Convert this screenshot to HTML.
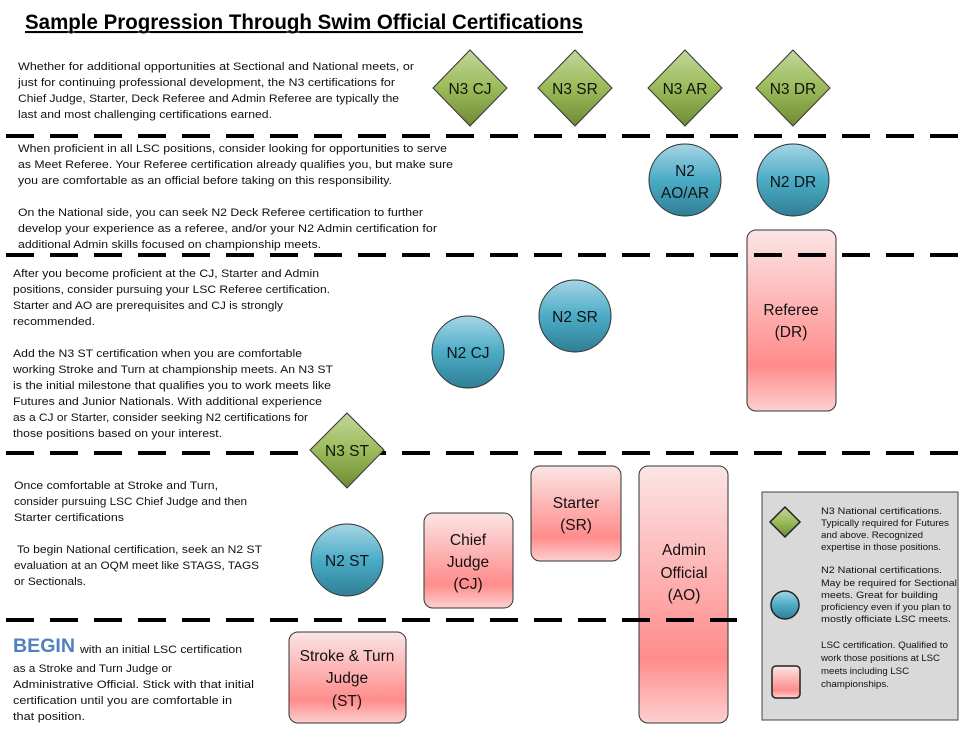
<!DOCTYPE html>
<html><head><meta charset="utf-8"><style>
html,body{margin:0;padding:0;background:#fff;}
svg{display:block;font-family:"Liberation Sans",sans-serif;}
.p{font-size:11px;fill:#111;}
.l{font-size:9px;fill:#111;}
.s{font-size:15.5px;fill:#111;text-anchor:middle;}
</style></head><body>
<svg width="974" height="731" viewBox="0 0 974 731" xmlns="http://www.w3.org/2000/svg">
<defs>
<linearGradient id="g" x1="0" y1="0" x2="0" y2="1"><stop offset="0" stop-color="#c3d69b"/><stop offset="0.5" stop-color="#9bbb59"/><stop offset="1" stop-color="#6f8b36"/></linearGradient>
<linearGradient id="b" x1="0" y1="0" x2="0" y2="1"><stop offset="0" stop-color="#a5d5e4"/><stop offset="0.5" stop-color="#4bacc6"/><stop offset="1" stop-color="#2f7f95"/></linearGradient>
<linearGradient id="r" x1="0" y1="0" x2="0" y2="1"><stop offset="0" stop-color="#fbe5e5"/><stop offset="0.75" stop-color="#ff8c8c"/><stop offset="1" stop-color="#fcd0d0"/></linearGradient>
</defs>

<text x="25" y="29" font-size="21" font-weight="bold" textLength="558" lengthAdjust="spacingAndGlyphs" text-decoration="underline">Sample Progression Through Swim Official Certifications</text>
<line x1="25" y1="32" x2="583" y2="32" stroke="#000" stroke-width="1.5"/>

<!-- shapes -->
<g stroke="#333" stroke-width="1">
<rect x="747" y="230" width="89" height="181" rx="9" fill="url(#r)"/>
<rect x="531" y="466" width="90" height="95" rx="9" fill="url(#r)"/>
<rect x="424" y="513" width="89" height="95" rx="9" fill="url(#r)"/>
<rect x="639" y="466" width="89" height="257" rx="9" fill="url(#r)"/>
<rect x="289" y="632" width="117" height="91" rx="9" fill="url(#r)"/>
</g>

<!-- dashed lines -->
<g stroke="#000" stroke-width="4" stroke-dasharray="28 16">
<line x1="6" y1="136" x2="966" y2="136"/>
<line x1="6" y1="255" x2="962" y2="255"/>
<line x1="6" y1="453" x2="958" y2="453"/>
<line x1="6" y1="620" x2="737" y2="620"/>
</g>

<g stroke="#333" stroke-width="1" fill="url(#g)">
<polygon points="470,50 507,88 470,126 433,88"/>
<polygon points="575,50 612,88 575,126 538,88"/>
<polygon points="685,50 722,88 685,126 648,88"/>
<polygon points="793,50 830,88 793,126 756,88"/>
<polygon points="347,413 384,450 347,488 310,450"/>
</g>
<g stroke="#333" stroke-width="1" fill="url(#b)">
<circle cx="685" cy="180" r="36"/>
<circle cx="793" cy="180" r="36"/>
<circle cx="575" cy="316" r="36"/>
<circle cx="468" cy="352" r="36"/>
<circle cx="347" cy="560" r="36"/>
</g>

<g class="s">
<text x="470" y="94">N3 CJ</text>
<text x="575" y="94">N3 SR</text>
<text x="685" y="94">N3 AR</text>
<text x="793" y="94">N3 DR</text>
<text x="347" y="456">N3 ST</text>
<text x="685" y="176">N2</text>
<text x="685" y="198">AO/AR</text>
<text x="793" y="187">N2 DR</text>
<text x="575" y="322">N2 SR</text>
<text x="468" y="358">N2 CJ</text>
<text x="347" y="566">N2 ST</text>
<text x="791" y="315">Referee</text>
<text x="791" y="337">(DR)</text>
<text x="576" y="508">Starter</text>
<text x="576" y="530">(SR)</text>
<text x="468" y="545">Chief</text>
<text x="468" y="567">Judge</text>
<text x="468" y="589">(CJ)</text>
<text x="684" y="555">Admin</text>
<text x="684" y="578">Official</text>
<text x="684" y="600">(AO)</text>
<text x="347" y="661">Stroke &amp; Turn</text>
<text x="347" y="683">Judge</text>
<text x="347" y="706">(ST)</text>
</g>

<!-- paragraphs -->
<g class="p" lengthAdjust="spacingAndGlyphs">
<text x="18" y="70" textLength="396" lengthAdjust="spacingAndGlyphs">Whether for additional opportunities at Sectional and National meets, or</text>
<text x="18" y="86" textLength="377" lengthAdjust="spacingAndGlyphs">just for continuing professional development, the N3 certifications for</text>
<text x="18" y="102" textLength="381" lengthAdjust="spacingAndGlyphs">Chief Judge, Starter, Deck Referee and Admin Referee are typically the</text>
<text x="18" y="118" textLength="254" lengthAdjust="spacingAndGlyphs">last and most challenging certifications earned.</text>

<text x="18" y="152" textLength="429" lengthAdjust="spacingAndGlyphs">When proficient in all LSC positions, consider looking for opportunities to serve</text>
<text x="18" y="168" textLength="435" lengthAdjust="spacingAndGlyphs">as Meet Referee.  Your Referee certification already qualifies you, but make sure</text>
<text x="18" y="184" textLength="374" lengthAdjust="spacingAndGlyphs">you are comfortable as an official before taking on this responsibility.</text>
<text x="18" y="216" textLength="405" lengthAdjust="spacingAndGlyphs">On the National side, you can seek N2 Deck Referee certification to further</text>
<text x="18" y="232" textLength="419" lengthAdjust="spacingAndGlyphs">develop your experience as a referee,  and/or your N2 Admin certification for</text>
<text x="18" y="248" textLength="303" lengthAdjust="spacingAndGlyphs">additional Admin skills focused on championship meets.</text>

<text x="13" y="277" textLength="306" lengthAdjust="spacingAndGlyphs">After you become proficient at the CJ, Starter and Admin</text>
<text x="13" y="293" textLength="317" lengthAdjust="spacingAndGlyphs">positions, consider pursuing your LSC Referee certification.</text>
<text x="13" y="309" textLength="270" lengthAdjust="spacingAndGlyphs">Starter and AO are prerequisites and CJ is strongly</text>
<text x="13" y="325" textLength="82" lengthAdjust="spacingAndGlyphs">recommended.</text>
<text x="13" y="357" textLength="289" lengthAdjust="spacingAndGlyphs">Add the N3 ST certification when you are comfortable</text>
<text x="13" y="373" textLength="320" lengthAdjust="spacingAndGlyphs">working Stroke and Turn at championship meets.  An N3 ST</text>
<text x="13" y="389" textLength="318" lengthAdjust="spacingAndGlyphs">is the initial milestone that qualifies you to work meets like</text>
<text x="13" y="405" textLength="309" lengthAdjust="spacingAndGlyphs">Futures and Junior Nationals.  With additional experience</text>
<text x="13" y="421" textLength="295" lengthAdjust="spacingAndGlyphs">as a CJ or Starter, consider seeking N2 certifications for</text>
<text x="13" y="437" textLength="209" lengthAdjust="spacingAndGlyphs">those positions based on your interest.</text>

<text x="14" y="489" textLength="204" lengthAdjust="spacingAndGlyphs">Once comfortable at Stroke and Turn,</text>
<text x="14" y="505" textLength="233" lengthAdjust="spacingAndGlyphs">consider pursuing LSC Chief Judge and then</text>
<text x="14" y="521" textLength="110" lengthAdjust="spacingAndGlyphs">Starter certifications</text>
<text x="17" y="553" textLength="245" lengthAdjust="spacingAndGlyphs">To begin National certification, seek an N2 ST</text>
<text x="14" y="569" textLength="245" lengthAdjust="spacingAndGlyphs">evaluation at an OQM meet like STAGS, TAGS</text>
<text x="14" y="585" textLength="72" lengthAdjust="spacingAndGlyphs">or Sectionals.</text>

<text x="13" y="652" font-size="19" font-weight="bold" fill="#4f81bd" style="fill:#4f81bd" textLength="62" lengthAdjust="spacingAndGlyphs">BEGIN</text>
<text x="80" y="653" textLength="162" lengthAdjust="spacingAndGlyphs">with an initial LSC certification</text>
<text x="13" y="672" textLength="159" lengthAdjust="spacingAndGlyphs">as a Stroke and Turn Judge or</text>
<text x="13" y="688" textLength="241" lengthAdjust="spacingAndGlyphs">Administrative Official.  Stick with that initial</text>
<text x="13" y="704" textLength="219" lengthAdjust="spacingAndGlyphs">certification until you are comfortable in</text>
<text x="13" y="720" textLength="72" lengthAdjust="spacingAndGlyphs">that position.</text>
</g>

<!-- legend -->
<rect x="762" y="492" width="196" height="228" fill="#d9d9d9" stroke="#444" stroke-width="1"/>
<polygon points="785,507 800,522 785,537 770,522" fill="url(#g)" stroke="#222" stroke-width="1.5"/>
<circle cx="785" cy="605" r="14" fill="url(#b)" stroke="#222" stroke-width="1.5"/>
<rect x="772" y="666" width="28" height="32" rx="4" fill="url(#r)" stroke="#222" stroke-width="1.5"/>
<g class="l">
<text x="821" y="514" textLength="121" lengthAdjust="spacingAndGlyphs">N3 National certifications.</text>
<text x="821" y="526" textLength="128" lengthAdjust="spacingAndGlyphs">Typically required for Futures</text>
<text x="821" y="538" textLength="102" lengthAdjust="spacingAndGlyphs">and above.  Recognized</text>
<text x="821" y="550" textLength="120" lengthAdjust="spacingAndGlyphs">expertise in those positions.</text>
<text x="821" y="573" textLength="121" lengthAdjust="spacingAndGlyphs">N2 National certifications.</text>
<text x="821" y="586" textLength="136" lengthAdjust="spacingAndGlyphs">May be required for Sectional</text>
<text x="821" y="598" textLength="117" lengthAdjust="spacingAndGlyphs">meets.  Great for building</text>
<text x="821" y="610" textLength="130" lengthAdjust="spacingAndGlyphs">proficiency even if you plan to</text>
<text x="821" y="622" textLength="130" lengthAdjust="spacingAndGlyphs">mostly officiate LSC meets.</text>
<text x="821" y="648" textLength="127" lengthAdjust="spacingAndGlyphs">LSC certification.  Qualified to</text>
<text x="821" y="661" textLength="119" lengthAdjust="spacingAndGlyphs">work those positions at LSC</text>
<text x="821" y="674" textLength="88" lengthAdjust="spacingAndGlyphs">meets including LSC</text>
<text x="821" y="687" textLength="68" lengthAdjust="spacingAndGlyphs">championships.</text>
</g>
</svg>
</body></html>
